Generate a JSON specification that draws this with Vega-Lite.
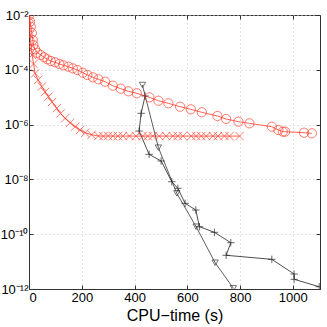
{
  "$schema": "https://vega.github.io/schema/vega-lite/v6.json",
  "width": 291,
  "height": 274,
  "autosize": "none",
  "padding": {"left": 29, "top": 15, "right": 7, "bottom": 38},
  "background": "white",
  "config": {
    "view": {"stroke": "#333", "strokeWidth": 1},
    "axis": {
      "domainColor": "#333",
      "tickColor": "#333",
      "gridColor": "#c8c8c8",
      "gridDash": [1, 3],
      "gridWidth": 1,
      "labelFont": "Liberation Sans",
      "titleFont": "Liberation Sans",
      "labelColor": "#000",
      "titleColor": "#000",
      "labelFontSize": 13,
      "tickSize": -4
    }
  },
  "data": {
    "values": [
      {"s": "circ", "i": 0, "t": 1.5, "r": 1.0e-2},
      {"s": "circ", "i": 1, "t": 4.2, "r": 5.7e-3},
      {"s": "circ", "i": 2, "t": 6.8, "r": 3.7e-3},
      {"s": "circ", "i": 3, "t": 10.6, "r": 2.2e-3},
      {"s": "circ", "i": 4, "t": 14.4, "r": 1.22e-3},
      {"s": "circ", "i": 5, "t": 16.7, "r": 8.0e-4},
      {"s": "circ", "i": 6, "t": 23.1, "r": 5.6e-4},
      {"s": "circ", "i": 7, "t": 31.8, "r": 4.2e-4},
      {"s": "circ", "i": 8, "t": 44.7, "r": 3.47e-4},
      {"s": "circ", "i": 9, "t": 57.2, "r": 2.86e-4},
      {"s": "circ", "i": 10, "t": 69.7, "r": 2.42e-4},
      {"s": "circ", "i": 11, "t": 82.6, "r": 2.09e-4},
      {"s": "circ", "i": 12, "t": 98.9, "r": 1.88e-4},
      {"s": "circ", "i": 13, "t": 115.2, "r": 1.63e-4},
      {"s": "circ", "i": 14, "t": 130.4, "r": 1.46e-4},
      {"s": "circ", "i": 15, "t": 149.4, "r": 1.3e-4},
      {"s": "circ", "i": 16, "t": 166, "r": 1.13e-4},
      {"s": "circ", "i": 17, "t": 183.5, "r": 9.8e-5},
      {"s": "circ", "i": 18, "t": 203.9, "r": 7.8e-5},
      {"s": "circ", "i": 19, "t": 221.4, "r": 6.46e-5},
      {"s": "circ", "i": 20, "t": 241.8, "r": 5.32e-5},
      {"s": "circ", "i": 21, "t": 263.1, "r": 4.5e-5},
      {"s": "circ", "i": 22, "t": 288.5, "r": 3.68e-5},
      {"s": "circ", "i": 23, "t": 317.7, "r": 2.63e-5},
      {"s": "circ", "i": 24, "t": 348, "r": 2.04e-5},
      {"s": "circ", "i": 25, "t": 376.8, "r": 1.64e-5},
      {"s": "circ", "i": 26, "t": 408.6, "r": 1.39e-5},
      {"s": "circ", "i": 27, "t": 456.4, "r": 9.9e-6},
      {"s": "circ", "i": 28, "t": 490.5, "r": 7.44e-6},
      {"s": "circ", "i": 29, "t": 528.4, "r": 5.98e-6},
      {"s": "circ", "i": 30, "t": 572.8, "r": 4.5e-6},
      {"s": "circ", "i": 31, "t": 613.3, "r": 3.61e-6},
      {"s": "circ", "i": 32, "t": 655, "r": 2.81e-6},
      {"s": "circ", "i": 33, "t": 714.2, "r": 2.06e-6},
      {"s": "circ", "i": 34, "t": 747.2, "r": 1.6e-6},
      {"s": "circ", "i": 35, "t": 793.8, "r": 1.28e-6},
      {"s": "circ", "i": 36, "t": 835.5, "r": 1.11e-6},
      {"s": "circ", "i": 37, "t": 920.4, "r": 8.37e-7},
      {"s": "circ", "i": 38, "t": 945.4, "r": 6.35e-7},
      {"s": "circ", "i": 39, "t": 962.1, "r": 5.51e-7},
      {"s": "circ", "i": 40, "t": 970.8, "r": 5.51e-7},
      {"s": "circ", "i": 41, "t": 1042.8, "r": 5.06e-7},
      {"s": "circ", "i": 42, "t": 1072, "r": 4.81e-7},

      {"s": "xm", "i": 0, "t": 1, "r": 8.45e-3},
      {"s": "xm", "i": 1, "t": 2.3, "r": 4.31e-3},
      {"s": "xm", "i": 2, "t": 4.2, "r": 1.86e-3},
      {"s": "xm", "i": 3, "t": 8, "r": 8.0e-4},
      {"s": "xm", "i": 4, "t": 11.8, "r": 3.47e-4},
      {"s": "xm", "i": 5, "t": 17.4, "r": 1.63e-4},
      {"s": "xm", "i": 6, "t": 23.1, "r": 7.4e-5},
      {"s": "xm", "i": 7, "t": 34.5, "r": 4.25e-5},
      {"s": "xm", "i": 8, "t": 48.5, "r": 2.42e-5},
      {"s": "xm", "i": 9, "t": 61, "r": 1.55e-5},
      {"s": "xm", "i": 10, "t": 73.5, "r": 1.04e-5},
      {"s": "xm", "i": 11, "t": 87.6, "r": 6.68e-6},
      {"s": "xm", "i": 12, "t": 105.4, "r": 3.94e-6},
      {"s": "xm", "i": 13, "t": 119.8, "r": 2.54e-6},
      {"s": "xm", "i": 14, "t": 136.8, "r": 1.7e-6},
      {"s": "xm", "i": 15, "t": 155.8, "r": 1.17e-6},
      {"s": "xm", "i": 16, "t": 174.8, "r": 8.4e-7},
      {"s": "xm", "i": 17, "t": 193.7, "r": 6.35e-7},
      {"s": "xm", "i": 18, "t": 212.7, "r": 5.06e-7},
      {"s": "xm", "i": 19, "t": 237.3, "r": 4.25e-7},
      {"s": "xm", "i": 20, "t": 263.1, "r": 3.84e-7},
      {"s": "xm", "i": 21, "t": 282, "r": 3.8e-7},
      {"s": "xm", "i": 22, "t": 300, "r": 3.85e-7},
      {"s": "xm", "i": 23, "t": 318, "r": 3.8e-7},
      {"s": "xm", "i": 24, "t": 337, "r": 3.82e-7},
      {"s": "xm", "i": 25, "t": 356, "r": 3.8e-7},
      {"s": "xm", "i": 26, "t": 381, "r": 3.84e-7},
      {"s": "xm", "i": 27, "t": 406, "r": 3.8e-7},
      {"s": "xm", "i": 28, "t": 431, "r": 3.82e-7},
      {"s": "xm", "i": 29, "t": 450, "r": 3.8e-7},
      {"s": "xm", "i": 30, "t": 469, "r": 3.83e-7},
      {"s": "xm", "i": 31, "t": 494, "r": 3.8e-7},
      {"s": "xm", "i": 32, "t": 520, "r": 3.82e-7},
      {"s": "xm", "i": 33, "t": 545, "r": 3.8e-7},
      {"s": "xm", "i": 34, "t": 564, "r": 3.83e-7},
      {"s": "xm", "i": 35, "t": 583, "r": 3.8e-7},
      {"s": "xm", "i": 36, "t": 615, "r": 3.82e-7},
      {"s": "xm", "i": 37, "t": 634, "r": 3.8e-7},
      {"s": "xm", "i": 38, "t": 653, "r": 3.82e-7},
      {"s": "xm", "i": 39, "t": 672, "r": 3.8e-7},
      {"s": "xm", "i": 40, "t": 697, "r": 3.82e-7},
      {"s": "xm", "i": 41, "t": 716, "r": 3.8e-7},
      {"s": "xm", "i": 42, "t": 741, "r": 3.82e-7},
      {"s": "xm", "i": 43, "t": 760, "r": 3.8e-7},
      {"s": "xm", "i": 44, "t": 798, "r": 3.81e-7},

      {"s": "plus", "i": 0, "t": 440, "r": 1.11e-5},
      {"s": "plus", "i": 1, "t": 425, "r": 2.58e-6},
      {"s": "plus", "i": 2, "t": 417.4, "r": 5.83e-7},
      {"s": "plus", "i": 3, "t": 455.3, "r": 8.24e-8},
      {"s": "plus", "i": 4, "t": 500.8, "r": 4.7e-8},
      {"s": "plus", "i": 5, "t": 541.3, "r": 8.24e-9},
      {"s": "plus", "i": 6, "t": 564.1, "r": 4.73e-9},
      {"s": "plus", "i": 7, "t": 591.7, "r": 1.34e-9},
      {"s": "plus", "i": 8, "t": 632.3, "r": 7.64e-10},
      {"s": "plus", "i": 9, "t": 646, "r": 1.88e-10},
      {"s": "plus", "i": 10, "t": 702.8, "r": 1.17e-10},
      {"s": "plus", "i": 11, "t": 765, "r": 4.9e-11},
      {"s": "plus", "i": 12, "t": 747.2, "r": 1.7e-11},
      {"s": "plus", "i": 13, "t": 920.4, "r": 1.21e-11},
      {"s": "plus", "i": 14, "t": 1004.9, "r": 3.52e-12},
      {"s": "plus", "i": 15, "t": 1004.9, "r": 2.26e-12},
      {"s": "plus", "i": 16, "t": 1100, "r": 1.21e-12},

      {"s": "tri", "i": 0, "t": 429.9, "r": 2.79e-5},
      {"s": "tri", "i": 1, "t": 490.5, "r": 1.44e-7},
      {"s": "tri", "i": 2, "t": 560.3, "r": 3.11e-9},
      {"s": "tri", "i": 3, "t": 633.4, "r": 1.88e-10},
      {"s": "tri", "i": 4, "t": 705.5, "r": 9.1e-12},
      {"s": "tri", "i": 5, "t": 774.8, "r": 1.06e-12}
    ]
  },
  "encoding": {
    "color": {
      "field": "s", "type": "nominal",
      "scale": {"domain": ["circ", "xm", "plus", "tri"], "range": ["#ff3b2a", "#ff3b2a", "#222222", "#333333"]},
      "legend": null
    },
    "order": {"field": "i", "type": "quantitative"}
  },
  "layer": [
    {
      "mark": {"type": "line", "strokeWidth": 0.8, "clip": true},
      "encoding": {
        "x": {
          "field": "t", "type": "quantitative",
          "scale": {"domain": [0, 1103], "nice": false, "zero": false},
          "axis": {
            "values": [0, 200, 400, 600, 800, 1000],
            "format": "d",
            "title": "CPU−time (s)",
            "titleFontSize": 16,
            "titleFontWeight": "normal",
            "titlePadding": 3,
            "labelPadding": 6,
            "grid": true
          }
        },
        "y": {
          "field": "r", "type": "quantitative",
          "scale": {"type": "log", "domain": [1e-12, 1e-2], "nice": false},
          "axis": {
            "values": [1e-12, 1e-10, 1e-8, 1e-6, 1e-4, 1e-2],
            "title": null,
            "grid": true,
            "labelExpr": "datum.value >= 0.005 ? '10⁻²' : datum.value >= 5e-5 ? '10⁻⁴' : datum.value >= 5e-7 ? '10⁻⁶' : datum.value >= 5e-9 ? '10⁻⁸' : datum.value >= 5e-11 ? '10⁻¹⁰' : '10⁻¹²'",
            "labelPadding": 5
          }
        },
        "detail": {"field": "s"}
      }
    },
    {
      "mark": {"type": "point", "filled": false, "strokeWidth": 0.8, "opacity": 0.85, "clip": true},
      "encoding": {
        "x": {
          "field": "t", "type": "quantitative",
          "axis": {"orient": "top", "values": [0, 200, 400, 600, 800, 1000], "labels": false, "title": null, "domain": false, "grid": false}
        },
        "y": {
          "field": "r", "type": "quantitative",
          "axis": {"orient": "right", "values": [1e-12, 1e-10, 1e-8, 1e-6, 1e-4, 1e-2], "labels": false, "title": null, "domain": false, "grid": false}
        },
        "shape": {
          "field": "s", "type": "nominal",
          "scale": {"domain": ["circ", "xm", "plus", "tri"], "range": ["circle", "M-1,-1L1,1M-1,1L1,-1", "M-1,0L1,0M0,-1L0,1", "triangle-down"]},
          "legend": null
        },
        "size": {
          "field": "s", "type": "nominal",
          "scale": {"domain": ["circ", "xm", "plus", "tri"], "range": [85, 40, 55, 110]},
          "legend": null
        }
      }
    }
  ],
  "resolve": {"axis": {"x": "independent", "y": "independent"}}
}
